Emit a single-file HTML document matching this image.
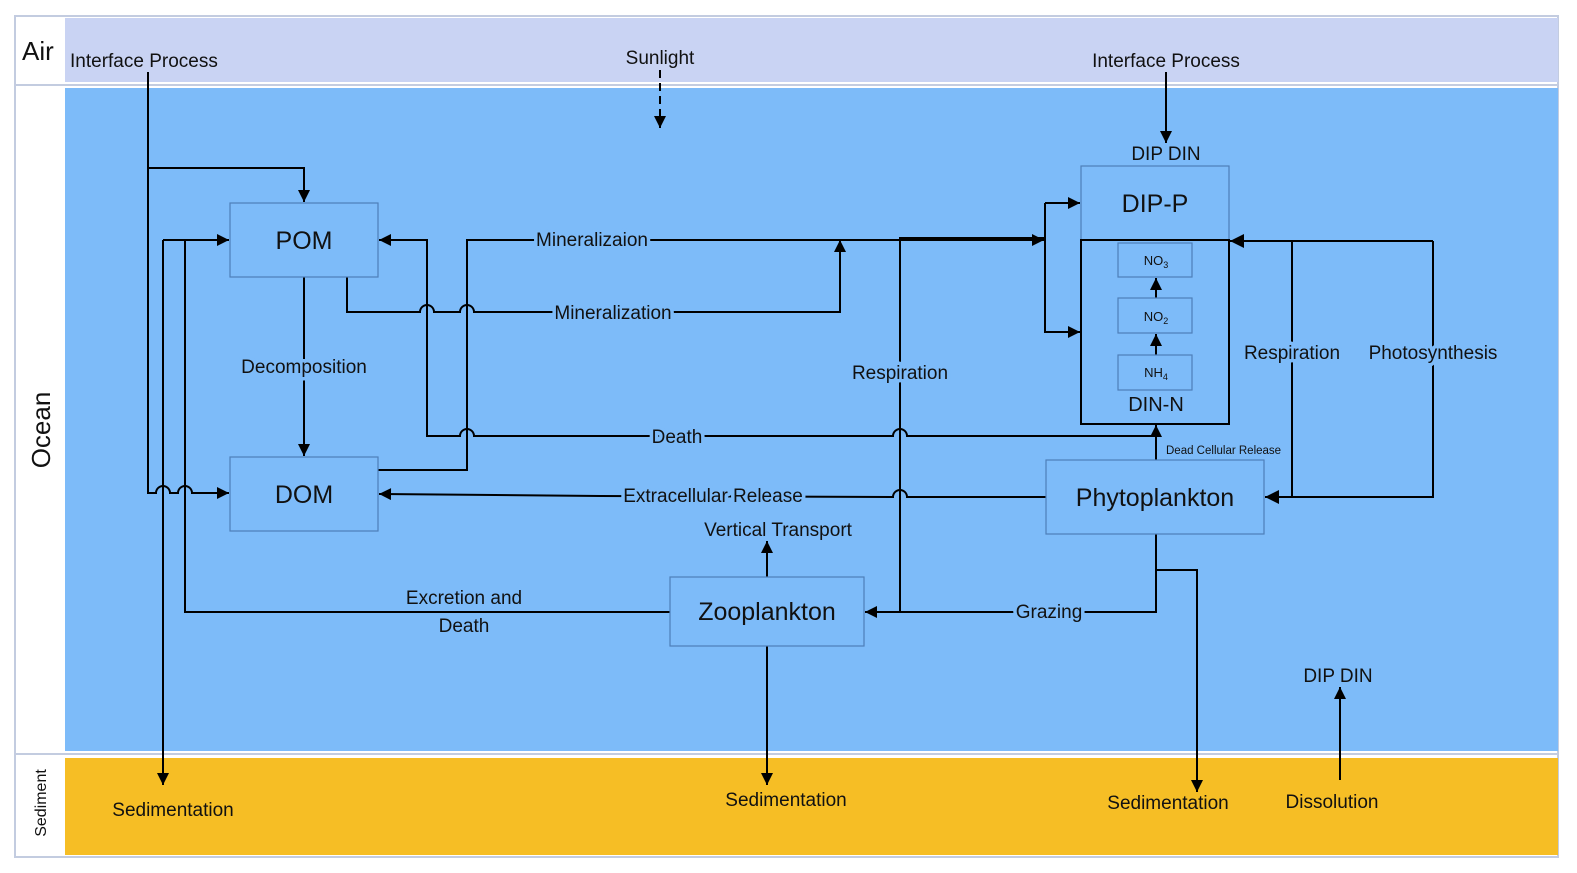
<!DOCTYPE html>
<html><head><meta charset="utf-8"><style>
html,body{margin:0;padding:0;background:#fff;overflow:hidden;width:1577px;height:873px}
svg{display:block}
text{font-family:"Liberation Sans",sans-serif;fill:#111}
.l{font-size:19px;paint-order:stroke;stroke:#7DBBF9;stroke-width:7px;stroke-linejoin:round}
.b{font-size:25px}
</style></head><body>
<svg width="1577" height="873" viewBox="0 0 1577 873" xmlns="http://www.w3.org/2000/svg">
<defs>
<marker id="a" viewBox="0 0 10 10" refX="10" refY="5" markerWidth="13" markerHeight="12" markerUnits="userSpaceOnUse" orient="auto"><path d="M0,0 L10,5 L0,10 z" fill="#000"/></marker>
<marker id="a2" viewBox="0 0 10 10" refX="10" refY="5" markerWidth="14" markerHeight="14" markerUnits="userSpaceOnUse" orient="auto"><path d="M0,0 L10,5 L0,10 z" fill="#000"/></marker>
</defs>
<rect x="15" y="16" width="1543" height="841" fill="#fff" stroke="#C3CCE0" stroke-width="2"/>
<line x1="15" y1="85" x2="1558" y2="85" stroke="#C3CCE0" stroke-width="2"/>
<line x1="15" y1="754" x2="1558" y2="754" stroke="#C3CCE0" stroke-width="2"/>
<rect x="65" y="18" width="1493" height="64" fill="#C9D3F3"/>
<rect x="65" y="88" width="1493" height="663" fill="#7DBBF9"/>
<rect x="65" y="758" width="1493" height="97" fill="#F6BE25"/>
<text x="22" y="60" font-size="26">Air</text>
<text transform="translate(50,430) rotate(-90)" font-size="26" text-anchor="middle">Ocean</text>
<text transform="translate(46,803) rotate(-90)" font-size="16" text-anchor="middle">Sediment</text>

<g fill="none" stroke="#000" stroke-width="2">
<path d="M148,72 V493 L156,493 A7,7 0 0 1 170,493 L178,493 A7,7 0 0 1 192,493 L229,493" marker-end="url(#a)"/>
<path d="M148,168 H304 V202" marker-end="url(#a)"/>
<path d="M163,240 V785" marker-end="url(#a)"/>
<path d="M163,240 H229" marker-end="url(#a)"/>
<path d="M670,612 H185 V240"/>
<path d="M304,277 V456" marker-end="url(#a)"/>
<path d="M347,277 V312 H420 A7,7 0 0 1 434,312 H460 A7,7 0 0 1 474,312 H840 V240" marker-end="url(#a)"/>
<path d="M378,470 H467 V240 H1044" marker-end="url(#a)"/>
<path d="M1045,203 H1080" marker-end="url(#a)"/>
<path d="M1045,203 V332 H1080" marker-end="url(#a)"/>
<path d="M1156,436 H907 A7,7 0 0 0 893,436 H474 A7,7 0 0 0 460,436 H427 V240 H379" marker-end="url(#a)"/>
<path d="M1156,460 V425" marker-end="url(#a)"/>
<path d="M1046,497 H907 A7,7 0 0 0 893,497 L600,496 L379,494" marker-end="url(#a)"/>
<path d="M900,612 V238 H1044"/>
<path d="M1156,534 V612 H865" marker-end="url(#a)"/>
<path d="M1156,570 H1197 V792" marker-end="url(#a)"/>
<path d="M767,577 V541" marker-end="url(#a)"/>
<path d="M767,646 V785" marker-end="url(#a)"/>
<path d="M1433,241 H1230" marker-end="url(#a2)"/>
<path d="M1292,241 V497"/>
<path d="M1433,241 V497 H1265" marker-end="url(#a2)"/>
<path d="M1166,72 V143" marker-end="url(#a)"/>
<path d="M660,70 V128" stroke-dasharray="8,5" marker-end="url(#a)"/>
<path d="M1340,780 V687" marker-end="url(#a)"/>
<path d="M1156,355 V334" marker-end="url(#a)"/>
<path d="M1156,298 V278" marker-end="url(#a)"/>
</g>

<g fill="#7DBBF9" stroke="#4E7FB8" stroke-width="1.2">
<rect x="230" y="203" width="148" height="74"/>
<rect x="230" y="457" width="148" height="74"/>
<rect x="670" y="577" width="194" height="69"/>
<rect x="1046" y="460" width="218" height="74"/>
<rect x="1081" y="166" width="148" height="74"/>
<rect x="1118" y="243" width="74" height="34"/>
<rect x="1118" y="298" width="74" height="35"/>
<rect x="1118" y="355" width="74" height="35"/>
</g>
<rect x="1081" y="240" width="148" height="184" fill="none" stroke="#000" stroke-width="2"/>

<text class="b" x="304" y="249" text-anchor="middle">POM</text>
<text class="b" x="304" y="503" text-anchor="middle">DOM</text>
<text class="b" x="767" y="620" text-anchor="middle">Zooplankton</text>
<text class="b" x="1155" y="506" text-anchor="middle">Phytoplankton</text>
<text class="b" x="1155" y="212" text-anchor="middle">DIP-P</text>
<text x="1156" y="411" font-size="20" text-anchor="middle">DIN-N</text>
<text x="1156" y="265" font-size="13" text-anchor="middle">NO<tspan font-size="9" dy="3">3</tspan></text>
<text x="1156" y="321" font-size="13" text-anchor="middle">NO<tspan font-size="9" dy="3">2</tspan></text>
<text x="1156" y="377" font-size="13" text-anchor="middle">NH<tspan font-size="9" dy="3">4</tspan></text>

<g font-size="19">
<text x="70" y="67">Interface Process</text>
<text x="1166" y="67" text-anchor="middle">Interface Process</text>
<text x="660" y="64" text-anchor="middle">Sunlight</text>
<text x="1166" y="160" text-anchor="middle">DIP DIN</text>
<text x="1338" y="682" text-anchor="middle">DIP DIN</text>
<text x="173" y="816" text-anchor="middle">Sedimentation</text>
<text x="786" y="806" text-anchor="middle">Sedimentation</text>
<text x="1168" y="809" text-anchor="middle">Sedimentation</text>
<text x="1332" y="808" text-anchor="middle">Dissolution</text>
<text x="778" y="536" text-anchor="middle">Vertical Transport</text>
<text x="464" y="604" text-anchor="middle">Excretion and</text>
<text x="464" y="632" text-anchor="middle">Death</text>
</g>
<text class="l" x="592" y="246" text-anchor="middle">Mineralizaion</text>
<text class="l" x="613" y="319" text-anchor="middle">Mineralization</text>
<text class="l" x="304" y="373" text-anchor="middle">Decomposition</text>
<text class="l" x="677" y="443" text-anchor="middle">Death</text>
<text class="l" x="713" y="502" text-anchor="middle">Extracellular Release</text>
<text class="l" x="900" y="379" text-anchor="middle">Respiration</text>
<text class="l" x="1049" y="618" text-anchor="middle">Grazing</text>
<text class="l" x="1292" y="359" text-anchor="middle">Respiration</text>
<text class="l" x="1433" y="359" text-anchor="middle">Photosynthesis</text>
<text x="1166" y="454" font-size="11.5">Dead Cellular Release</text>
</svg>
</body></html>
